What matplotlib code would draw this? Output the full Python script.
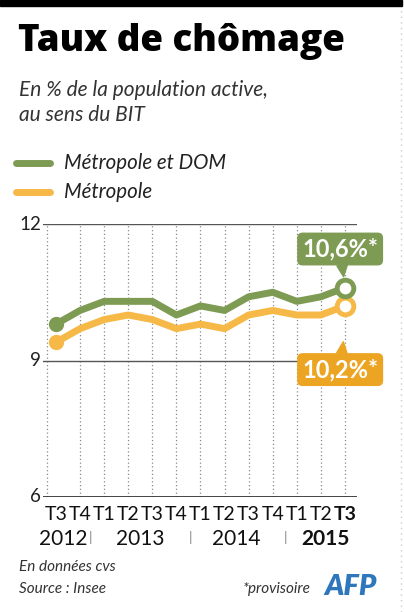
import matplotlib.pyplot as plt
import numpy as np

quarters = ["T3", "T4", "T1", "T2", "T3", "T4", "T1", "T2", "T3", "T4", "T1", "T2", "T3"]
years = ["2012", "2013", "2014", "2015"]
metro_dom = [9.8, 10.1, 10.3, 10.3, 10.3, 10.0, 10.2, 10.1, 10.4, 10.5, 10.3, 10.4, 10.6]
metro = [9.4, 9.7, 9.9, 10.0, 9.9, 9.7, 9.8, 9.7, 10.0, 10.1, 10.0, 10.0, 10.2]
yticks = [6, 9, 12]

GREEN = "#7e9b53"
ORANGE = "#f6b947"
ORANGE_BOX = "#eca522"
FONT = "Lato"

W, H = 404, 612
fig = plt.figure(figsize=(W / 100, H / 100), dpi=100)


def fx(px):
    return px / W


def fy(py):
    return 1 - py / H


# axes: x pixels 43..357, y pixels 224 (12) .. 497 (6)
ax = fig.add_axes([fx(43), fy(497), (357 - 43) / W, (497 - 224) / H])
ax.set_xlim(-0.54, 12.5)
ax.set_ylim(6, 12)
ax.axis("off")

x = np.arange(len(quarters))
for gx in [-0.38] + list(x[1:]):
    ax.plot([gx, gx], [6, 12], color="#8a8a8a", lw=0.9, ls=(0, (1, 2)), zorder=1)
ax.axhline(12, color="#555555", lw=1.0, zorder=2)
ax.axhline(9, color="#555555", lw=1.0, zorder=2)
ax.axhline(6, color="#333333", lw=2.0, zorder=2)

for v in yticks:
    ax.text(-0.62, v, str(v), ha="right", va="center", fontsize=13.5, family=FONT, color="#222222")

ax.plot(x, metro, color=ORANGE, lw=5, solid_joinstyle="round", zorder=3)
ax.plot(x, metro_dom, color=GREEN, lw=5, solid_joinstyle="round", zorder=4)
ax.plot(x[0], metro[0], "o", color=ORANGE, ms=10, zorder=5)
ax.plot(x[0], metro_dom[0], "o", color=GREEN, ms=10, zorder=5)
ax.plot(x[-1], metro[-1], "o", mfc="white", mec=ORANGE, mew=3.5, ms=12, zorder=5)
ax.plot(x[-1], metro_dom[-1], "o", mfc="white", mec=GREEN, mew=3.5, ms=12, zorder=6)

# value callouts
ax.annotate("10,6%*", xy=(x[-1], metro_dom[-1]), xytext=(x[-1] - 0.2, metro_dom[-1] + 0.85),
            ha="center", va="center", fontsize=17, fontweight="bold", family=FONT, color="white",
            bbox=dict(boxstyle="round,pad=0.18,rounding_size=0.2", fc=GREEN, ec=GREEN),
            arrowprops=dict(arrowstyle="wedge,tail_width=0.45", fc=GREEN, ec=GREEN,
                            shrinkA=0, shrinkB=8), zorder=7)
ax.annotate("10,2%*", xy=(x[-1] + 0.1, metro[-1]), xytext=(x[-1] - 0.2, metro[-1] - 1.4),
            ha="center", va="center", fontsize=17, fontweight="bold", family=FONT, color="white",
            bbox=dict(boxstyle="round,pad=0.18,rounding_size=0.2", fc=ORANGE_BOX, ec=ORANGE_BOX),
            arrowprops=dict(arrowstyle="wedge,tail_width=0.45", fc=ORANGE_BOX, ec=ORANGE_BOX,
                            shrinkA=0, shrinkB=26), zorder=7)

# quarter labels
for i, q in enumerate(quarters):
    bold = i == len(quarters) - 1
    ax.text(x[i], 5.62, q, ha="center", va="center", fontsize=14, family=FONT,
            fontweight="bold" if bold else "normal", color="#111111")

# year labels
year_pos = [0.3, 3.5, 7.5, 11.2]
for yr, p in zip(years, year_pos):
    ax.text(p, 5.07, yr, ha="center", va="center", fontsize=15, family=FONT,
            fontweight="bold" if yr == "2015" else "normal", color="#111111")
for sp in [1.45, 5.6, 9.55]:
    ax.text(sp, 5.12, "|", ha="center", va="center", fontsize=10, color="#888888", family=FONT)

# header
fig.patches.append(plt.Rectangle((0, fy(6)), fx(402), 6 / H, transform=fig.transFigure,
                                 color="black"))
fig.text(fx(18), fy(42), "Taux de chômage", ha="left", va="center", fontsize=26.5,
         fontweight="heavy", family="Open Sans", color="black")
fig.text(fx(19), fy(90), "En % de la population active,", ha="left", va="center",
         fontsize=15, style="italic", family=FONT, color="#333333")
fig.text(fx(19), fy(115), "au sens du BIT", ha="left", va="center",
         fontsize=15, style="italic", family=FONT, color="#333333")

# legend
for py, col, lab in [(163, GREEN, "Métropole et DOM"), (192, ORANGE, "Métropole")]:
    fig.add_artist(plt.Line2D([fx(16), fx(50)], [fy(py), fy(py)], color=col, lw=5,
                              solid_capstyle="round", transform=fig.transFigure))
    fig.text(fx(64), fy(py), lab, ha="left", va="center", fontsize=14.8, style="italic",
             family=FONT, color="#222222")

# footer
fig.text(fx(19), fy(567), "En données cvs", ha="left", va="center", fontsize=11,
         style="italic", family=FONT, color="#333333")
fig.text(fx(19), fy(589), "Source : Insee", ha="left", va="center", fontsize=11,
         style="italic", family=FONT, color="#333333")
fig.text(fx(243), fy(589), "*provisoire", ha="left", va="center", fontsize=11,
         style="italic", family=FONT, color="#333333")
fig.text(fx(324), fy(587), "AFP", ha="left", va="center", fontsize=21, fontweight="heavy",
         style="italic", family=FONT, color="#2f77bd")

# right dotted border
fig.add_artist(plt.Line2D([fx(401), fx(401)], [0, fy(8)], color="#cccccc", lw=1,
                          ls=(0, (1, 3)), transform=fig.transFigure))

fig.savefig("out.png", dpi=100, facecolor="white")
